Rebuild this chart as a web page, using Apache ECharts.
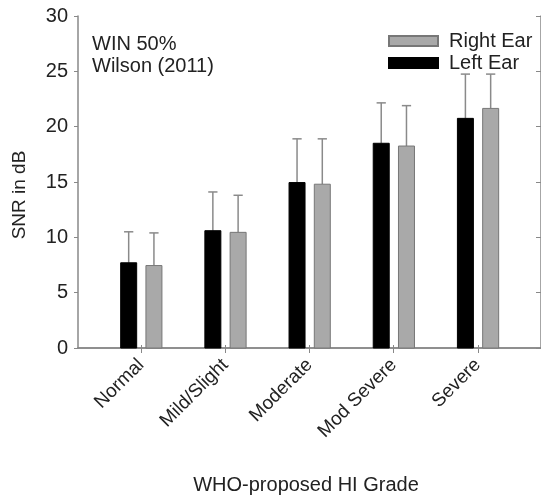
<!DOCTYPE html>
<html>
<head>
<meta charset="utf-8">
<script src="https://cdn.jsdelivr.net/npm/echarts@6/dist/echarts.min.js"></script>
<style>
html,body{margin:0;padding:0;background:#fff;}
#chart{width:541px;height:496px;}
</style>
</head>
<body>
<div id="chart"></div>
<script>
// ---- data ----
var categories = ['Normal', 'Mild/Slight', 'Moderate', 'Mod Severe', 'Severe'];
var leftEarMean  = [7.7, 10.6, 14.95, 18.5, 20.75];
var leftEarSD    = [2.8, 3.5, 3.95, 3.65, 4.0];
var rightEarMean = [7.45, 10.45, 14.8, 18.25, 21.65];
var rightEarSD   = [2.95, 3.35, 4.1, 3.65, 3.1];
var yTicks = [0, 5, 10, 15, 20, 25, 30];
var annotation = ['WIN 50%', 'Wilson (2011)'];

var FONT = "'Liberation Sans', Arial, sans-serif";
var catPos = categories.map(function (c, i) { return i + 1; });

function makeData(mean, sd) {
  return mean.map(function (m, i) { return [catPos[i], m, m + sd[i]]; });
}

var BAR_W = 0.19, CAP_W = 0.11;
function barRenderer(offset) {
  return function (params, api) {
    var x = api.value(0) + offset;
    var top = api.coord([x, api.value(1)]);
    var base = api.coord([x, 0]);
    var err = api.coord([x, api.value(2)]);
    var w = api.size([BAR_W, 0])[0];
    var cw = api.size([CAP_W, 0])[0];
    return {
      type: 'group',
      children: [
        { type: 'line', shape: { x1: top[0], y1: top[1], x2: top[0], y2: err[1] },
          style: { stroke: '#8a8a8a', lineWidth: 1.5 } },
        { type: 'line', shape: { x1: top[0] - cw / 2, y1: err[1], x2: top[0] + cw / 2, y2: err[1] },
          style: { stroke: '#8a8a8a', lineWidth: 1.5 } },
        { type: 'rect', shape: { x: top[0] - w / 2, y: top[1], width: w, height: base[1] - top[1] },
          style: api.style() }
      ]
    };
  };
}

var chart = echarts.init(document.getElementById('chart'), null, { renderer: 'canvas' });
var axisLine = { show: true, lineStyle: { color: '#888', width: 1.5 } };
var option = {
  backgroundColor: '#fff',
  animation: false,
  textStyle: { fontFamily: FONT },
  grid: { left: 78, top: 16, width: 468, height: 332, containLabel: false },
  legend: {
    data: ['Right Ear', 'Left Ear'],
    orient: 'vertical',
    left: 388, top: 31,
    itemWidth: 49, itemHeight: 10, itemGap: 2,
    icon: 'rect',
    padding: 0,
    textStyle: { fontFamily: FONT, fontSize: 20, color: '#222', padding: [0, 0, 0, 6] }
  },
  xAxis: [
    {
      type: 'value', position: 'bottom', min: 0.25, max: 5.75,
      axisLine: axisLine,
      splitLine: { show: false },
      axisTick: { show: true, inside: true, length: 3, customValues: catPos, lineStyle: { color: '#888' } },
      axisLabel: {
        customValues: catPos, rotate: 45, margin: 14,
        fontFamily: FONT, fontSize: 19, color: '#222',
        formatter: function (v) { return categories[Math.round(v) - 1] || ''; }
      }
    },
    {
      type: 'value', position: 'top', min: 0.25, max: 5.75,
      axisLine: axisLine,
      splitLine: { show: false },
      axisTick: { show: true, inside: true, length: 5, customValues: catPos, lineStyle: { color: '#888' } },
      axisLabel: { show: false }
    }
  ],
  yAxis: [
    {
      type: 'value', position: 'left', min: 0, max: 30, interval: 5,
      axisLine: axisLine,
      splitLine: { show: false },
      axisTick: { show: true, inside: false, length: 4, lineStyle: { color: '#888' } },
      axisLabel: { margin: 10, fontFamily: FONT, fontSize: 20, color: '#222',
        formatter: function (v) { return yTicks.indexOf(v) >= 0 ? String(v) : ''; } }
    },
    {
      type: 'value', position: 'right', min: 0, max: 30, interval: 5,
      axisLine: axisLine,
      splitLine: { show: false },
      axisTick: { show: true, inside: true, length: 5, lineStyle: { color: '#888' } },
      axisLabel: { show: false }
    }
  ],
  graphic: [
    { type: 'text', left: 92, top: 34, style: { text: annotation[0], font: '20px ' + FONT, fill: '#222' } },
    { type: 'text', left: 92, top: 56, style: { text: annotation[1], font: '20px ' + FONT, fill: '#222' } },
    { type: 'text', x: 20, y: 195, rotation: Math.PI / 2,
      style: { text: 'SNR in dB', font: '19px ' + FONT, fill: '#222', align: 'center', verticalAlign: 'middle' } },
    { type: 'text', x: 306, y: 485,
      style: { text: 'WHO-proposed HI Grade', font: '20px ' + FONT, fill: '#222', align: 'center', verticalAlign: 'middle' } }
  ],
  series: [
    {
      name: 'Left Ear', type: 'custom', xAxisIndex: 0, yAxisIndex: 0,
      renderItem: barRenderer(-0.148),
      itemStyle: { color: '#000', borderColor: '#000', borderWidth: 1 },
      encode: { x: 0, y: 1 },
      data: makeData(leftEarMean, leftEarSD)
    },
    {
      name: 'Right Ear', type: 'custom', xAxisIndex: 0, yAxisIndex: 0,
      renderItem: barRenderer(0.152),
      itemStyle: { color: '#a9a9a9', borderColor: '#777', borderWidth: 1 },
      encode: { x: 0, y: 1 },
      data: makeData(rightEarMean, rightEarSD)
    }
  ]
};
chart.setOption(option);
</script>
</body>
</html>
